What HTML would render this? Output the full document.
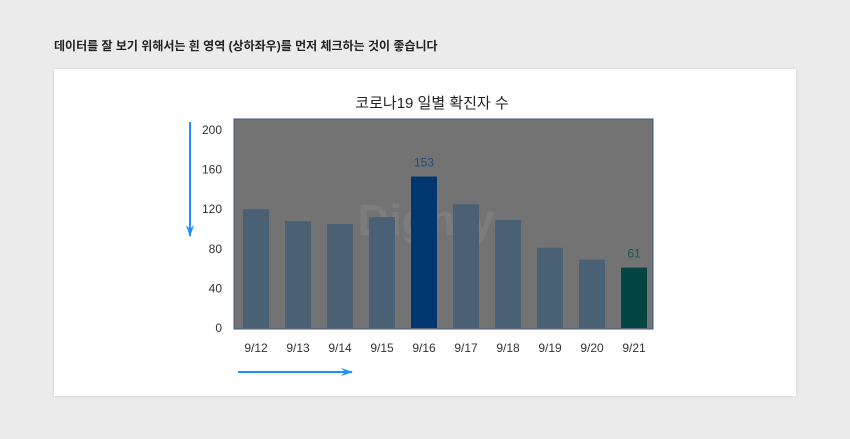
<!DOCTYPE html>
<html><head><meta charset="utf-8"><style>
body{margin:0;width:850px;height:439px;background:#ebebeb;font-family:"Liberation Sans","Noto Sans CJK KR",sans-serif;position:relative;overflow:hidden}
.hd{position:absolute;left:54px;top:37px;font-size:12px;font-weight:bold;color:#222}
.card{position:absolute;left:54px;top:69px;width:742px;height:327px;background:#fff;box-shadow:0 0 3px rgba(0,0,0,.12)}
</style></head><body>
<div class="hd">데이터를 잘 보기 위해서는 흰 영역 (상하좌우)를 먼저 체크하는 것이 좋습니다</div>
<div class="card"></div>
<svg width="850" height="439" style="position:absolute;left:0;top:0">
<defs><marker id="ah" markerWidth="12" markerHeight="8" refX="11" refY="4" orient="auto" markerUnits="userSpaceOnUse"><path d="M0,0 L12,4 L0,8 L4,4z" fill="#1e90ff"/></marker></defs>
<text x="432" y="108" text-anchor="middle" font-size="15" fill="#222">코로나19 일별 확진자 수</text>
<rect x="234" y="119" width="419" height="210" fill="#737373" stroke="#3a5a8a" stroke-width="1"/>
<text x="426" y="235" text-anchor="middle" font-size="44" font-weight="bold" fill="#888" opacity="0.5">Dighty</text>
<g id="bars"></g><g id="yt"></g><g id="xt"></g>
<line x1="190" y1="122" x2="190" y2="236" stroke="#1e90ff" stroke-width="2" marker-end="url(#ah)"/>
<line x1="238" y1="372" x2="352" y2="372" stroke="#1e90ff" stroke-width="2" marker-end="url(#ah)"/>
</svg>
<script>
const categories=["9/12","9/13","9/14","9/15","9/16","9/17","9/18","9/19","9/20","9/21"];
const values=[120,108,105,112,153,125,109,81,69,61];
const yTicks=[0,40,80,120,160,200];
const ns="http://www.w3.org/2000/svg";
const x0=235,bw=42,y0=328,ky=0.99;
const X=i=>x0+bw*i+bw/2, Y=v=>y0-v*ky;
const bars=document.getElementById('bars'),yt=document.getElementById('yt'),xt=document.getElementById('xt');
const mx=Math.max(...values),mn=Math.min(...values);
values.forEach((v,i)=>{
 const r=document.createElementNS(ns,'rect');
 r.setAttribute('x',X(i)-13);r.setAttribute('y',Y(v));r.setAttribute('width',26);r.setAttribute('height',v*ky);
 r.setAttribute('fill',v===mx?'#02366e':v===mn?'#034542':'#4a6074');
 
 
 bars.appendChild(r);
 if(v===mx||v===mn){const t=document.createElementNS(ns,'text');
  t.setAttribute('x',X(i));t.setAttribute('y',Y(v)-10);t.setAttribute('text-anchor','middle');t.setAttribute('font-size','12');
  t.setAttribute('fill',v===mx?'#1f4e85':'#1f5550');t.textContent=v;
  
  
  bars.appendChild(t);}
 const l=document.createElementNS(ns,'text');
 l.setAttribute('x',X(i));l.setAttribute('y',352);l.setAttribute('text-anchor','middle');l.setAttribute('font-size','12');l.setAttribute('fill','#333');l.textContent=categories[i];
 
 
 xt.appendChild(l);
});
yTicks.forEach(v=>{const t=document.createElementNS(ns,'text');
 t.setAttribute('x',222);t.setAttribute('y',Y(v)+4);t.setAttribute('text-anchor','end');t.setAttribute('font-size','12');t.setAttribute('fill','#333');t.textContent=v;
 
 
 yt.appendChild(t);});
</script>
</body></html>
